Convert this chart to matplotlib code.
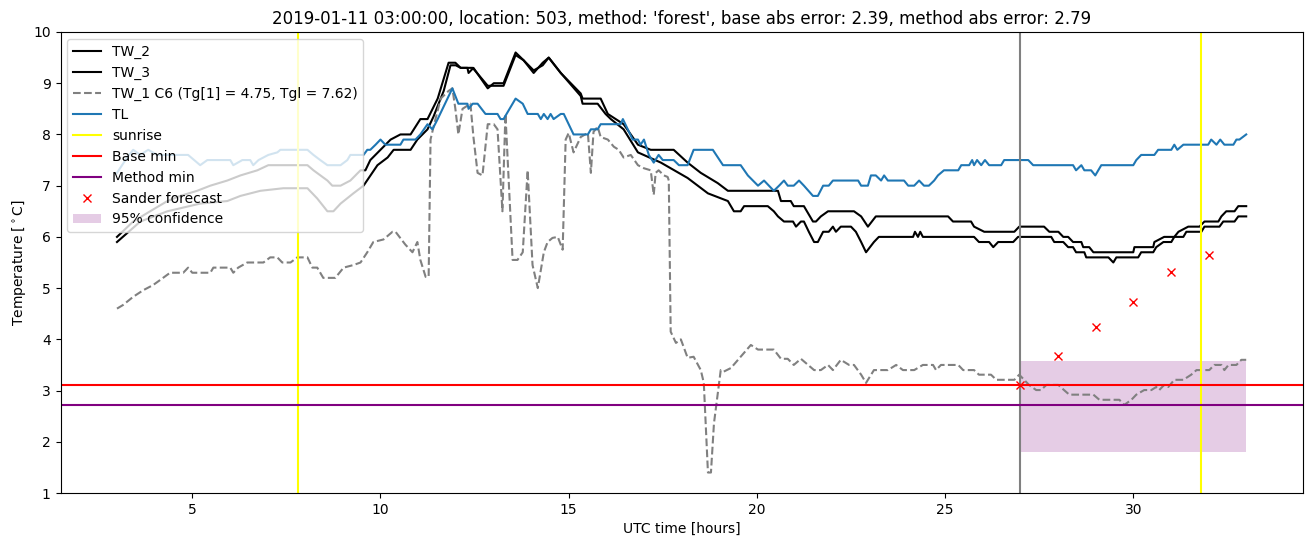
import matplotlib
matplotlib.use("Agg")
import matplotlib.pyplot as plt

title = "2019-01-11 03:00:00, location: 503, method: 'forest', base abs error: 2.39, method abs error: 2.79"

tw2_t = [3.0, 3.43, 3.88, 4.34, 4.68, 5.13, 5.48, 5.93, 6.28, 6.73, 7.02, 7.34, 8.06, 8.22, 8.59, 8.72, 8.94, 9.20, 9.47, 9.60,
         9.73, 10.0, 10.27, 10.53, 10.80, 11.06, 11.25, 11.52, 11.81, 11.99, 12.13, 12.31, 12.34, 12.47, 12.85, 13.01, 13.27,
         13.59, 13.80, 14.07, 14.31, 14.47, 14.79, 15.32, 15.37, 15.85, 16.04, 16.46, 16.84, 17.18, 17.79, 18.16, 18.51,
         18.96, 19.23, 20.56, 20.64, 20.90, 20.98, 21.25, 21.49, 21.57, 21.70, 21.89, 22.58, 22.77, 22.95, 23.16, 25.08,
         25.21, 25.69, 25.77, 26.04, 26.84, 26.97, 27.63, 27.77, 28.01, 28.14, 28.27, 28.40, 28.62, 28.67, 28.83, 28.94,
         30.0, 30.03, 30.53, 30.56, 30.82, 31.09, 31.20, 31.46, 31.76, 31.89, 32.26, 32.34, 32.47, 32.69, 32.79, 33.0]
tw2_v = [6.0, 6.3, 6.5, 6.7, 6.8, 6.9, 7.0, 7.1, 7.2, 7.3, 7.4, 7.4, 7.4, 7.3, 7.1, 7.0, 7.0, 7.1, 7.3, 7.3,
         7.5, 7.7, 7.9, 8.0, 8.0, 8.3, 8.3, 8.7, 9.4, 9.4, 9.3, 9.3, 9.2, 9.3, 8.9, 9.0, 9.0,
         9.6, 9.45, 9.2, 9.4, 9.5, 9.2, 8.8, 8.7, 8.7, 8.4, 8.2, 7.8, 7.7, 7.7, 7.45, 7.25,
         7.05, 6.9, 6.9, 6.7, 6.7, 6.6, 6.6, 6.3, 6.3, 6.4, 6.5, 6.5, 6.4, 6.2, 6.4, 6.4,
         6.3, 6.3, 6.2, 6.1, 6.1, 6.2, 6.2, 6.1, 6.1, 6.0, 6.0, 5.9, 5.9, 5.8, 5.8, 5.7,
         5.7, 5.8, 5.8, 5.9, 6.0, 6.0, 6.1, 6.2, 6.2, 6.3, 6.3, 6.4, 6.5, 6.5, 6.6, 6.6]

tw3_t = [3.0, 3.62, 4.34, 5.21, 5.93, 6.28, 6.81, 7.42, 8.06, 8.32, 8.59, 8.75, 8.94, 9.28, 9.55, 9.92, 10.19, 10.35,
         10.80, 10.98, 11.25, 11.41, 11.68, 11.86, 12.0, 12.13, 12.45, 12.85, 13.27, 13.59, 13.80, 14.07, 14.31, 14.47,
         14.79, 15.32, 15.37, 15.77, 15.98, 16.12, 16.46, 16.84, 17.45, 18.16, 18.70, 19.23, 19.39, 19.57, 19.66, 20.29,
         20.45, 20.56, 20.72, 20.96, 21.04, 21.17, 21.25, 21.38, 21.52, 21.62, 21.76, 21.91, 22.02, 22.10, 22.23, 22.50,
         22.63, 22.77, 22.90, 23.11, 23.24, 24.15, 24.20, 24.28, 24.34, 24.41, 25.77, 25.90, 26.17, 26.28, 26.41, 26.81,
         26.94, 27.82, 27.90, 28.14, 28.27, 28.40, 28.48, 28.70, 28.75, 29.34, 29.47, 29.55, 30.13, 30.21, 30.53, 30.61,
         30.80, 31.01, 31.09, 31.33, 31.41, 31.81, 31.89, 32.29, 32.39, 32.69, 32.79, 33.0]
tw3_v = [5.9, 6.3, 6.5, 6.65, 6.7, 6.8, 6.9, 6.95, 6.95, 6.75, 6.5, 6.5, 6.65, 6.85, 7.0, 7.4, 7.55, 7.7,
         7.7, 7.9, 8.1, 8.35, 8.85, 9.35, 9.35, 9.3, 9.3, 8.95, 8.95, 9.55, 9.45, 9.25, 9.35, 9.5,
         9.2, 8.75, 8.6, 8.6, 8.4, 8.3, 8.1, 7.65, 7.45, 7.15, 6.85, 6.7, 6.5, 6.5, 6.6, 6.6,
         6.5, 6.4, 6.3, 6.3, 6.2, 6.3, 6.3, 6.1, 5.9, 5.9, 6.1, 6.1, 6.2, 6.1, 6.2, 6.2,
         6.1, 5.9, 5.7, 5.9, 6.0, 6.0, 6.1, 6.0, 6.1, 6.0, 6.0, 5.9, 5.9, 5.8, 5.9, 5.9,
         6.0, 6.0, 5.9, 5.9, 5.8, 5.8, 5.7, 5.7, 5.6, 5.6, 5.5, 5.6, 5.6, 5.7, 5.7, 5.8,
         5.9, 5.9, 6.0, 6.0, 6.1, 6.1, 6.2, 6.2, 6.3, 6.3, 6.4, 6.4]

tw1_t = [3.0, 3.16, 3.43, 3.70, 3.96, 4.15, 4.41, 4.76, 4.89, 5.0, 5.48, 5.56, 6.01, 6.09, 6.22, 6.46, 6.89, 7.07, 7.26,
         7.39, 7.61, 7.79, 8.06, 8.19, 8.32, 8.48, 8.80, 9.02, 9.28, 9.47, 9.65, 9.81, 10.08, 10.32, 10.40, 10.66, 10.85,
         10.98, 11.06, 11.20, 11.28, 11.33, 11.41, 11.60, 11.81, 11.91, 11.99, 12.07, 12.18, 12.39, 12.47, 12.58, 12.71,
         12.85, 13.01, 13.11, 13.24, 13.32, 13.40, 13.51, 13.64, 13.78, 13.91, 14.04, 14.18, 14.34, 14.44, 14.57, 14.71,
         14.84, 14.92, 15.0, 15.13, 15.32, 15.51, 15.59, 15.66, 15.77, 15.85, 16.04, 16.20, 16.33, 16.46, 16.65, 16.84,
         17.0, 17.18, 17.26, 17.31, 17.39, 17.53, 17.63, 17.66, 17.71, 17.85, 17.98, 18.16, 18.32, 18.51, 18.59, 18.70,
         18.78, 18.86, 19.04, 19.12, 19.31, 19.57, 19.84, 20.03, 20.45, 20.64, 20.82, 20.98, 21.17, 21.36, 21.52, 21.70,
         21.89, 22.02, 22.23, 22.45, 22.58, 22.77, 22.90, 23.11, 23.48, 23.70, 23.88, 24.18, 24.41, 24.68, 24.76, 24.89,
         25.35, 25.48, 25.77, 25.90, 26.22, 26.36, 26.84, 26.97, 27.10, 27.23, 27.42, 27.55, 27.69, 28.01, 28.16, 28.30,
         28.94, 29.10, 29.63, 29.76, 29.95, 30.08, 30.29, 30.48, 30.61, 30.69, 30.82, 30.93, 31.09, 31.33, 31.54, 31.68,
         32.02, 32.15, 32.34, 32.42, 32.53, 32.74, 32.87, 33.0]
tw1_v = [4.6, 4.67, 4.83, 4.96, 5.06, 5.16, 5.3, 5.3, 5.4, 5.3, 5.3, 5.4, 5.4, 5.3, 5.4, 5.5, 5.5, 5.6, 5.6,
         5.5, 5.5, 5.6, 5.6, 5.4, 5.4, 5.2, 5.2, 5.4, 5.45, 5.5, 5.7, 5.9, 5.95, 6.1, 6.1, 5.85, 5.7,
         5.9, 5.55, 5.22, 5.22, 7.9, 8.15, 8.7, 8.85, 8.9, 8.5, 8.0, 8.5, 8.6, 7.95, 7.25, 7.2,
         8.2, 8.2, 8.1, 6.5, 8.4, 7.2, 5.55, 5.55, 5.7, 7.3, 5.45, 5.0, 5.7, 5.9, 5.98, 6.0,
         5.75, 7.9, 8.03, 7.65, 7.95, 8.03, 7.25, 8.05, 8.15, 7.95, 7.9, 7.76, 7.7, 7.55, 7.6, 7.4,
         7.34, 7.3, 6.82, 7.25, 7.3, 7.2, 7.17, 7.1, 4.15, 3.93, 4.0, 3.64, 3.66, 3.4, 3.15, 1.4,
         1.4, 2.36, 3.4, 3.37, 3.44, 3.66, 3.89, 3.8, 3.8, 3.62, 3.62, 3.5, 3.62, 3.5, 3.4, 3.4,
         3.5, 3.4, 3.6, 3.5, 3.5, 3.31, 3.15, 3.4, 3.4, 3.5, 3.4, 3.4, 3.5, 3.5, 3.4, 3.5,
         3.5, 3.4, 3.4, 3.31, 3.31, 3.21, 3.21, 3.31, 3.21, 3.11, 3.01, 3.01, 3.11, 3.11, 3.01, 2.92,
         2.92, 2.82, 2.82, 2.72, 2.82, 2.92, 3.01, 3.01, 3.07, 3.01, 3.11, 3.07, 3.21, 3.21, 3.31, 3.4,
         3.4, 3.5, 3.5, 3.4, 3.5, 3.5, 3.6, 3.6]

tl_t = [3.0, 3.27, 3.43, 3.62, 3.83, 4.07, 4.89, 5.21, 5.40, 6.01, 6.09, 6.33, 6.54, 6.62, 6.76, 7.02, 7.26, 7.34, 8.06,
        8.22, 8.40, 8.59, 8.94, 9.12, 9.20, 9.55, 9.65, 9.73, 9.87, 10.0, 10.13, 10.53, 10.61, 10.93, 11.06, 11.25, 11.38,
        11.52, 11.91, 12.07, 12.31, 12.34, 12.45, 12.58, 12.79, 13.11, 13.19, 13.27, 13.59, 13.78, 13.91, 14.18, 14.26,
        14.34, 14.44, 14.52, 14.60, 14.79, 14.87, 15.13, 15.51, 15.59, 15.77, 15.85, 16.38, 16.44, 16.70, 16.84, 16.91,
        17.0, 17.13, 17.26, 17.39, 17.50, 17.79, 17.93, 18.16, 18.32, 18.83, 19.10, 19.57, 19.76, 20.03, 20.19, 20.45,
        20.59, 20.72, 20.82, 20.98, 21.12, 21.25, 21.49, 21.62, 21.76, 21.91, 22.02, 22.69, 22.77, 22.95, 23.03, 23.16,
        23.30, 23.38, 23.48, 23.91, 24.02, 24.18, 24.31, 24.44, 24.57, 24.71, 24.81, 24.97, 25.35, 25.43, 25.64, 25.72,
        25.77, 25.85, 25.96, 26.06, 26.17, 26.49, 26.57, 27.21, 27.34, 28.40, 28.48, 28.62, 28.70, 28.88, 28.99, 29.15,
        30.0, 30.08, 30.21, 30.56, 30.66, 31.01, 31.09, 31.17, 31.33, 31.99, 32.07, 32.21, 32.31, 32.42, 32.66, 32.74,
        32.82, 33.0]
tl_v = [7.25, 7.55, 7.7, 7.6, 7.7, 7.6, 7.6, 7.4, 7.5, 7.5, 7.4, 7.5, 7.5, 7.4, 7.5, 7.6, 7.65, 7.7, 7.7,
        7.6, 7.5, 7.4, 7.4, 7.5, 7.6, 7.6, 7.7, 7.7, 7.8, 7.9, 7.8, 7.8, 7.9, 7.9, 8.0, 8.2, 8.1,
        8.3, 8.9, 8.6, 8.6, 8.5, 8.6, 8.6, 8.4, 8.4, 8.3, 8.3, 8.7, 8.6, 8.4, 8.4, 8.3,
        8.4, 8.3, 8.4, 8.3, 8.4, 8.4, 8.0, 8.0, 8.1, 8.1, 8.2, 8.2, 8.3, 7.9, 7.9, 7.8,
        7.9, 7.6, 7.45, 7.6, 7.5, 7.5, 7.4, 7.4, 7.7, 7.7, 7.4, 7.4, 7.2, 7.0, 7.1, 6.9,
        7.0, 7.1, 7.0, 7.0, 7.1, 7.0, 6.8, 6.8, 7.0, 7.0, 7.1, 7.1, 7.0, 7.0, 7.2, 7.2,
        7.1, 7.2, 7.1, 7.1, 7.0, 7.0, 7.1, 7.0, 7.0, 7.1, 7.2, 7.3, 7.3, 7.4, 7.4, 7.5,
        7.4, 7.5, 7.4, 7.5, 7.4, 7.4, 7.5, 7.5, 7.4, 7.4, 7.3, 7.4, 7.3, 7.3, 7.2, 7.4,
        7.4, 7.5, 7.6, 7.6, 7.7, 7.7, 7.8, 7.7, 7.8, 7.8, 7.9, 7.8, 7.9, 7.8, 7.8, 7.9,
        7.9, 8.0]

sunrise_times = [7.8, 31.79]
forecast_start = 27.0
base_min = 3.11
method_min = 2.71
sander_t = [27, 28, 29, 30, 31, 32]
sander_v = [3.11, 3.68, 4.24, 4.73, 5.32, 5.65]
conf_t = [27.0, 33.0]
conf_low = 1.81
conf_high = 3.58

fig = plt.figure(figsize=(13.1, 5.47), dpi=100)
ax = fig.add_axes([0.0462, 0.0987, 0.9482, 0.8428])

ax.plot(tw2_t, tw2_v, color='k', label='TW_2')
ax.plot(tw3_t, tw3_v, color='k', label='TW_3')
ax.plot(tw1_t, tw1_v, color='gray', linestyle='--', label='TW_1 C6 (Tg[1] = 4.75, Tgl = 7.62)')
ax.plot(tl_t, tl_v, color='C0', label='TL')
ax.axvline(sunrise_times[0], color='yellow', label='sunrise')
ax.axvline(sunrise_times[1], color='yellow')
ax.axvline(forecast_start, color='gray')
ax.axhline(base_min, color='red', label='Base min')
ax.axhline(method_min, color='purple', label='Method min')
ax.plot(sander_t, sander_v, 'x', color='red', label='Sander forecast')
ax.fill_between(conf_t, [conf_low, conf_low], [conf_high, conf_high], color='purple', alpha=0.2,
                linewidth=0, label='95% confidence')

ax.set_ylim(1, 10)
ax.set_xlim(1.5, 34.5)
ax.set_xlabel('UTC time [hours]')
ax.set_ylabel(r'Temperature [$^\circ$C]')
ax.set_title(title)
ax.legend(loc='upper left')

fig.savefig('out.png', dpi=100)
